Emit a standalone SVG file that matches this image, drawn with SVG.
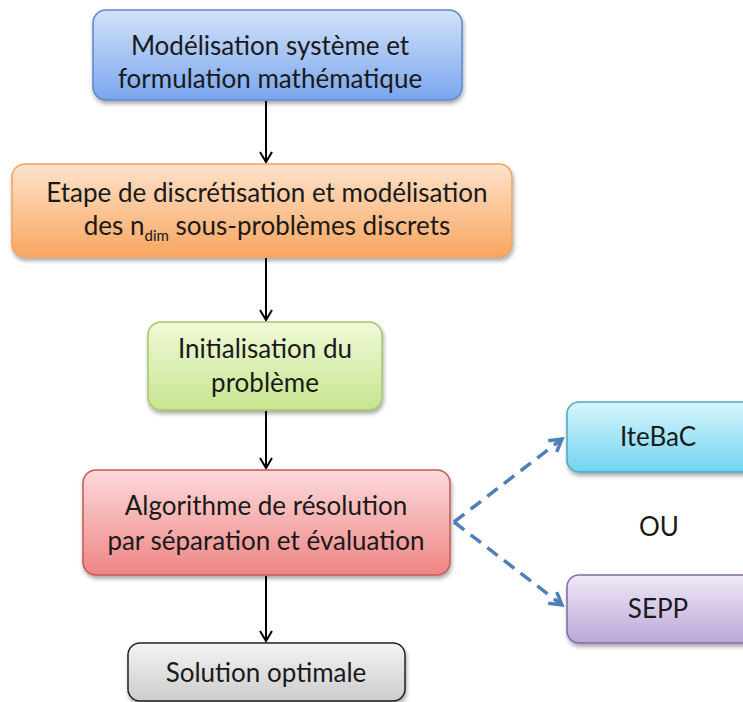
<svg xmlns="http://www.w3.org/2000/svg" width="743" height="702" viewBox="0 0 743 702">
<style>
text{font-family:Lato,"Open Sans","Liberation Sans",sans-serif;font-size:26px;fill:#1a1a1a;text-anchor:middle}
.b{stroke-width:1.5}
.arr{stroke:#000;stroke-width:2;fill:none}
.dash{stroke:#4f7fb8;stroke-width:3.5;stroke-dasharray:13 8;fill:none}
</style>
<defs>
<filter id="sh" x="-10%" y="-10%" width="120%" height="130%"><feDropShadow dx="1" dy="3" stdDeviation="2" flood-color="#000" flood-opacity="0.35"/></filter>
<linearGradient id="gBlue" x1="0" y1="0" x2="0" y2="1"><stop offset="0" stop-color="#d3e2fb"/><stop offset="1" stop-color="#7aa6ee"/></linearGradient>
<linearGradient id="gOrange" x1="0" y1="0" x2="0" y2="1"><stop offset="0" stop-color="#fde3cb"/><stop offset="1" stop-color="#f9a660"/></linearGradient>
<linearGradient id="gGreen" x1="0" y1="0" x2="0" y2="1"><stop offset="0" stop-color="#f1f9d8"/><stop offset="1" stop-color="#c6e58e"/></linearGradient>
<linearGradient id="gRed" x1="0" y1="0" x2="0" y2="1"><stop offset="0" stop-color="#fcdada"/><stop offset="1" stop-color="#f08585"/></linearGradient>
<linearGradient id="gCyan" x1="0" y1="0" x2="0" y2="1"><stop offset="0" stop-color="#d8f5fc"/><stop offset="1" stop-color="#70d4ef"/></linearGradient>
<linearGradient id="gPurple" x1="0" y1="0" x2="0" y2="1"><stop offset="0" stop-color="#f0e9f7"/><stop offset="1" stop-color="#bba7d8"/></linearGradient>
<linearGradient id="gGray" x1="0" y1="0" x2="0" y2="1"><stop offset="0" stop-color="#f4f4f4"/><stop offset="1" stop-color="#cccccc"/></linearGradient>
<marker id="ah" markerWidth="14" markerHeight="14" refX="11" refY="7" orient="auto" markerUnits="userSpaceOnUse"><path d="M1,1 L11,7 L1,13" fill="none" stroke="#000" stroke-width="2"/></marker>
<marker id="ahb" markerWidth="18" markerHeight="18" refX="14" refY="9" orient="auto" markerUnits="userSpaceOnUse"><path d="M2,2 L14,9 L2,16" fill="none" stroke="#4f7fb8" stroke-width="3.5"/></marker>
</defs>
<g id="connectors">
<line class="arr" x1="266" y1="101" x2="266" y2="162" marker-end="url(#ah)"/>
<line class="arr" x1="266" y1="258" x2="266" y2="320" marker-end="url(#ah)"/>
<line class="arr" x1="266" y1="411" x2="266" y2="468" marker-end="url(#ah)"/>
<line class="arr" x1="266" y1="576" x2="266" y2="641" marker-end="url(#ah)"/>
<path class="dash" d="M454,522 L562,439" marker-end="url(#ahb)"/>
<path class="dash" d="M454,522 L562,605" marker-end="url(#ahb)"/>
</g>
<g id="n1"><rect class="b" x="93" y="10" width="369" height="90" rx="13" fill="url(#gBlue)" stroke="#5b88cf" filter="url(#sh)"/>
<text x="270" y="55">Modélisation système et</text><text x="270" y="88">formulation mathématique</text></g>
<g id="n2"><rect class="b" x="12" y="164" width="500" height="93" rx="13" fill="url(#gOrange)" stroke="#f0a462" filter="url(#sh)"/>
<text x="267" y="202">Etape de discrétisation et modélisation</text><text x="267" y="235">des n<tspan font-size="15" dy="6">dim</tspan><tspan dy="-6"> sous-problèmes discrets</tspan></text></g>
<g id="n3"><rect class="b" x="148" y="322" width="234" height="88" rx="13" fill="url(#gGreen)" stroke="#a5c66a" filter="url(#sh)"/>
<text x="265" y="358">Initialisation du</text><text x="265" y="392">problème</text></g>
<g id="n4"><rect class="b" x="83" y="470" width="367" height="105" rx="13" fill="url(#gRed)" stroke="#c25a57" filter="url(#sh)"/>
<text x="266" y="515">Algorithme de résolution</text><text x="266" y="550">par séparation et évaluation</text></g>
<g id="n5"><rect class="b" x="567" y="402" width="190" height="70" rx="12" fill="url(#gCyan)" stroke="#4aa8c2" filter="url(#sh)"/>
<text x="658" y="446">IteBaC</text></g>
<g id="ou"><text x="659" y="536">OU</text></g>
<g id="n6"><rect class="b" x="567" y="575" width="190" height="68" rx="12" fill="url(#gPurple)" stroke="#8468a6" filter="url(#sh)"/>
<text x="658" y="618">SEPP</text></g>
<g id="n7"><rect class="b" x="128" y="643" width="277" height="58" rx="12" fill="url(#gGray)" stroke="#222" filter="url(#sh)"/>
<text x="266" y="682">Solution optimale</text></g>
</svg>
